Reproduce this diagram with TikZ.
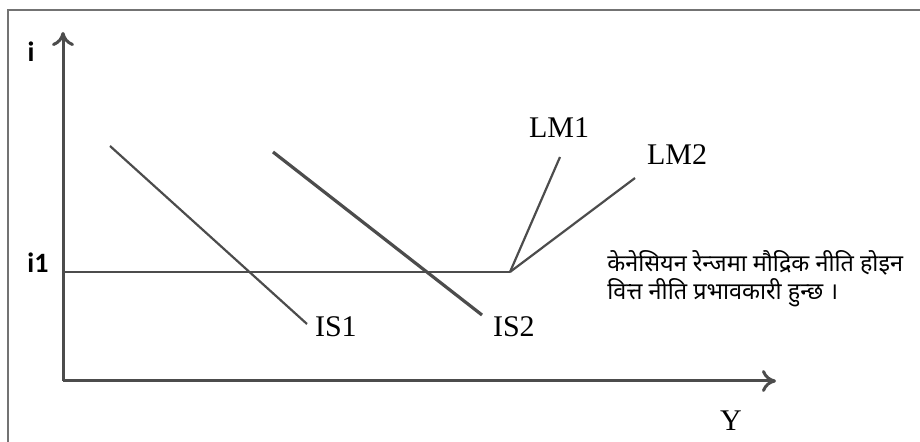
\documentclass[tikz,border=0pt]{standalone}
\usepackage{fontspec}
\setmainfont{Liberation Serif}
\newfontfamily\axisfont{Carlito}
\newfontfamily\devfont[Script=Devanagari]{Noto Sans}
\usetikzlibrary{arrows.meta}

\begin{document}
\begin{tikzpicture}[x=0.5pt,y=-0.5pt,
    curve/.style={draw=black!70,line width=1.1pt},
    axis/.style={draw=black!70,line width=1.5pt,-{To[length=7pt,width=11pt]}},
    lbl/.style={font=\fontsize{15}{17}\selectfont},
    ilbl/.style={font=\axisfont\bfseries\fontsize{14}{16}\selectfont}]
    \useasboundingbox (0,0) rectangle (920,442);
    % Frame round the picture (cut off at the bottom)
    \draw[black!55,line width=1.2pt] (8,442) -- (8,10) -- (920,10);
    % Axes
    \coordinate (O) at (63,381);
    \coordinate (ytip) at (63,32);
    \coordinate (xtip) at (776,381);
    \draw[axis] (O) -- (ytip);
    \draw[axis] (O) -- (xtip);
    \node[ilbl] (ilab) at (31,52) {i};
    \node[lbl] (Ylab) at (731,421) {Y};
    % Interest rate i1 and the flat part of LM
    \coordinate (iy) at (63,272);
    \coordinate (kink) at (510,272);
    \node[ilbl] (i1lab) at (38,263) {i1};
    \draw[curve] (iy) -- (kink);
    % LM curves
    \coordinate (lm1) at (560,157);
    \coordinate (lm2) at (635,178);
    \draw[curve] (kink) -- (lm1);
    \draw[curve] (kink) -- (lm2);
    \node[lbl] (lm1lab) at (559,128) {LM1};
    \node[lbl] (lm2lab) at (677,155) {LM2};
    % IS curves
    \coordinate (is1a) at (110,146);
    \coordinate (is1b) at (307,324);
    \coordinate (is2a) at (273,152);
    \coordinate (is2b) at (482,315);
    \draw[curve] (is1a) -- (is1b);
    \draw[curve,line width=1.6pt] (is2a) -- (is2b);
    \node[lbl,anchor=west] (is1lab) at (308,327) {IS1};
    \node[lbl,anchor=west] (is2lab) at (486,327) {IS2};
    % Note
    \node[anchor=west,align=left,inner sep=0pt,
      font=\devfont\fontsize{11.7}{14}\selectfont] (note) at (607,279)
      {केनेसियन रेन्जमा मौद्रिक नीति होइन\\वित्त नीति प्रभावकारी हुन्छ ।};
\end{tikzpicture}
\end{document}
